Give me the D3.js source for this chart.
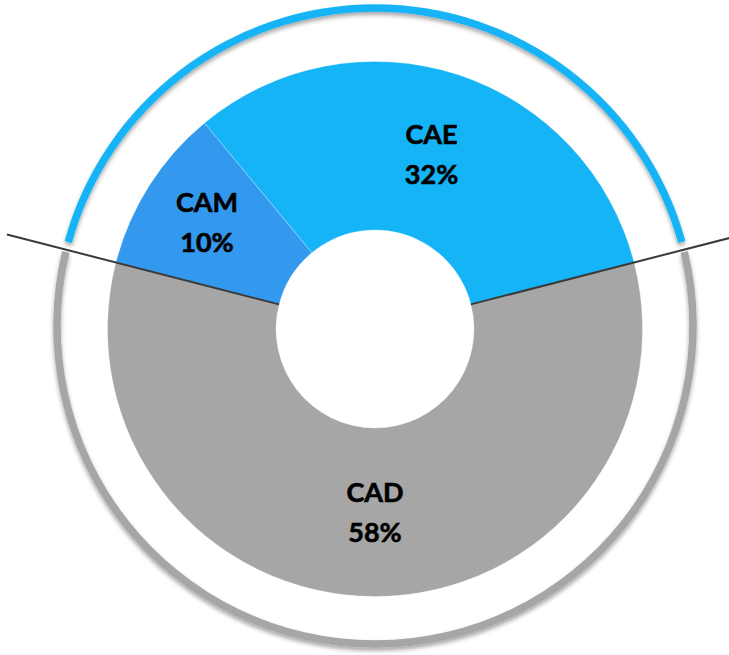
<!DOCTYPE html>
<html>
<head>
<meta charset="utf-8">
<script src="https://cdn.jsdelivr.net/npm/d3@7"></script>
<style>
  html, body { margin: 0; padding: 0; background: #fff; }
  svg { display: block; }
</style>
</head>
<body>
<svg id="chart" width="729" height="655"></svg>
<script>
// ---- data ----
const categories = ["CAM", "CAE", "CAD"];
const values = [10, 32, 58];
const labels = ["10%", "32%", "58%"];
const colors = ["#3399EE", "#14B4F6", "#A6A6A6"];
const ringColors = ["#14B4F6", "#A6A6A6"];

const W = 729, H = 655;
const cx = 375, cy = 329;
const rOuter = 267.5, rInner = 99;
const ringCy = 326, ringR = 318, ringW = 7.5;
const lineLen = 380;

const svg = d3.select("#chart");
const defs = svg.append("defs");
const f = defs.append("filter").attr("id", "shadow")
  .attr("x", "-20%").attr("y", "-20%").attr("width", "140%").attr("height", "140%");
f.append("feDropShadow").attr("dx", 0).attr("dy", 3).attr("stdDeviation", 2.2)
  .attr("flood-color", "#000").attr("flood-opacity", 0.35);

const data = categories.map((c, i) => ({ name: c, value: values[i], label: labels[i], color: colors[i] }));

// rotate so the CAD slice is centred at the bottom
const topShare = (values[0] + values[1]) / d3.sum(values) * 2 * Math.PI;
const start = -topShare / 2;
const pie = d3.pie().sort(null).value(d => d.value)
  .startAngle(start).endAngle(start + 2 * Math.PI);
const arcs = pie(data);

const g = svg.append("g").attr("transform", `translate(${cx},${cy})`);
const arc = d3.arc().innerRadius(rInner).outerRadius(rOuter);

g.selectAll("path.slice").data(arcs).join("path")
  .attr("class", "slice")
  .attr("d", arc)
  .attr("fill", d => d.data.color)
  .attr("stroke", "rgba(255,255,255,0.35)")
  .attr("stroke-width", 0.8);

// outer ring: blue over the top (CAM+CAE), grey under CAD
const boundaryA = start;                   // left boundary (CAD | CAM)
const boundaryB = start + topShare;        // right boundary (CAE | CAD)
const gap = 0.9 * Math.PI / 180;
const ringArc = d3.arc().innerRadius(ringR - ringW / 2).outerRadius(ringR + ringW / 2);
const ringG = svg.append("g").attr("transform", `translate(${cx},${ringCy})`)
  .attr("filter", "url(#shadow)");
const ringData = [
  { startAngle: boundaryA + gap, endAngle: boundaryB - gap, color: ringColors[0] },
  { startAngle: boundaryB + gap, endAngle: boundaryA + 2 * Math.PI - gap, color: ringColors[1] }
];
ringG.selectAll("path").data(ringData).join("path")
  .attr("d", ringArc).attr("fill", d => d.color);

// divider lines along CAD boundaries
[boundaryA, boundaryB].forEach(a => {
  const sx = Math.sin(a), sy = -Math.cos(a);
  g.append("line")
    .attr("x1", sx * rInner).attr("y1", sy * rInner)
    .attr("x2", sx * lineLen).attr("y2", sy * lineLen)
    .attr("stroke", "#3a3a3a").attr("stroke-width", 2);
});

// labels
const labelR = d => d.data.name === "CAM" ? 199 : 183;
const lab = g.selectAll("g.lab").data(arcs).join("g").attr("class", "lab")
  .attr("transform", d => {
    const a = (d.startAngle + d.endAngle) / 2;
    return `translate(${Math.sin(a) * labelR(d)},${-Math.cos(a) * labelR(d)})`;
  });
lab.append("text").attr("y", -10.5).text(d => d.data.name);
lab.append("text").attr("y", 29.5).text(d => d.data.label);
lab.selectAll("text")
  .attr("text-anchor", "middle")
  .attr("font-family", "Lato, 'Open Sans', sans-serif")
  .attr("font-weight", "bold")
  .attr("font-size", 27)
  .attr("fill", "#000")
  .attr("stroke", "#000")
  .attr("stroke-width", 0.6);
</script>
</body>
</html>
